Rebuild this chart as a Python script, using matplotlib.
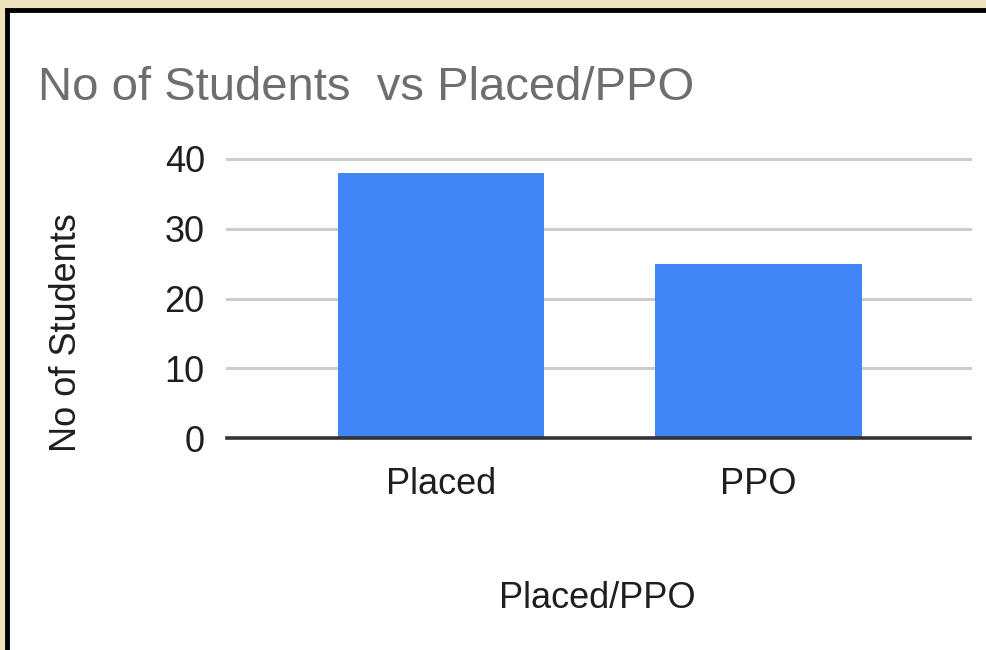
import matplotlib
matplotlib.use("Agg")
import matplotlib.pyplot as plt
from matplotlib.patches import Rectangle

# Data
categories = ["Placed", "PPO"]
students = [38, 25]
y_ticks = [0, 10, 20, 30, 40]

plt.rcParams["font.family"] = ["Liberation Sans", "DejaVu Sans"]

fig = plt.figure(figsize=(9.87, 6.5), dpi=100)
fig.patch.set_facecolor("#eee2bd")

# white card with black frame behind the chart
card = Rectangle((7 / 987, -0.01), 1.0, 1 - 10 / 650 + 0.01,
                 transform=fig.transFigure, facecolor="white",
                 edgecolor="black", linewidth=3.5, zorder=-5)
fig.patches.append(card)

ax = fig.add_axes([227 / 987, 1 - 438 / 650, (970 - 227) / 987, (438 - 159) / 650])
ax.set_facecolor("none")
ax.set_zorder(2)

x = list(range(len(categories)))
ax.bar(x, students, width=0.65, color="#4285f4", zorder=2)

ax.set_xlim(-0.674, 1.666)
ax.set_ylim(0, 40)
ax.set_yticks(y_ticks)
ax.set_xticks(x)
ax.set_xticklabels(categories)

for t in y_ticks[1:]:
    ax.axhline(t, color="#cccccc", linewidth=2.2, zorder=1, clip_on=False)
ax.axhline(0, color="#333333", linewidth=2.6, zorder=3, clip_on=False)

for s in ax.spines.values():
    s.set_visible(False)
ax.tick_params(axis="both", length=0, labelsize=26, colors="#1e1e1e")
ax.tick_params(axis="y", pad=16)
ax.tick_params(axis="x", pad=21)

ax.set_ylabel("No of Students", fontsize=26, color="#1e1e1e", va="center")
ax.yaxis.set_label_coords((66 - 227) / 743, (438 - 333) / 279)
ax.set_xlabel("Placed/PPO", fontsize=26, color="#1e1e1e", va="center")
ax.xaxis.set_label_coords((597 - 227) / 743, (438 - 598) / 279)

fig.text(38 / 987, 1 - 100 / 650, "No of Students  vs Placed/PPO",
         fontsize=34, color="#6e6e6e", ha="left", va="baseline")

fig.savefig("out.png", dpi=100)
